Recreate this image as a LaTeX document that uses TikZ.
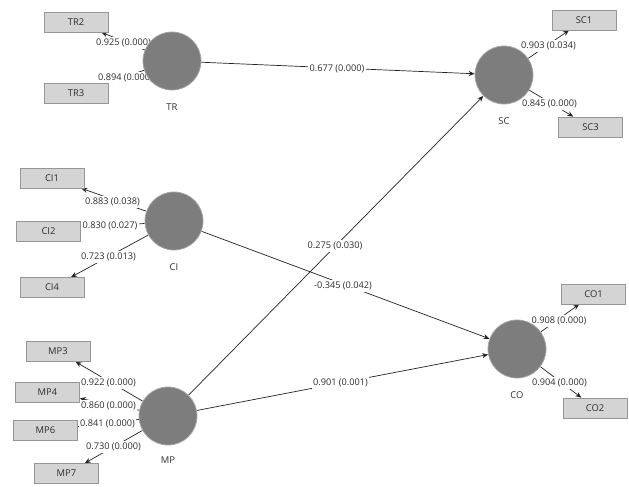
\documentclass[tikz,border=0pt]{standalone}
\usepackage{fontspec}
\setmainfont{Open Sans}
\usetikzlibrary{arrows.meta}
\pgfdeclarelayer{bg}
\pgfsetlayers{bg,main}
\definecolor{lvfill}{RGB}{125,125,125}
\definecolor{lvdraw}{RGB}{165,165,165}
\definecolor{mvfill}{RGB}{212,212,212}
\definecolor{mvdraw}{RGB}{150,150,150}
\definecolor{txt}{RGB}{45,45,45}
\definecolor{ln}{RGB}{35,35,35}
\begin{document}
\begin{tikzpicture}[x=1pt,y=-1pt,
  lv/.style={circle,fill=lvfill,draw=lvdraw,line width=0.8pt,minimum size=58pt,inner sep=0pt},
  mv/.style={rectangle,fill=mvfill,draw=mvdraw,line width=0.7pt,minimum width=64pt,minimum height=20pt,inner sep=0pt,text=txt,font=\fontsize{9.4}{10}\selectfont},
  lvname/.style={text=txt,font=\fontsize{9.4}{10}\selectfont,inner sep=0pt},
  elab/.style={fill=white,text=txt,font=\fontsize{9.2}{10}\selectfont,inner sep=1.5pt},
  arr/.style={draw=ln,line width=0.7pt,-{Stealth[length=6pt,width=5pt]}}]
\useasboundingbox (0,0) rectangle (629,487);
% latent variables
\node[lv] (TR) at (172,61) {};
\node[lv] (CI) at (174,221) {};
\node[lv] (MP) at (168,416) {};
\node[lv] (SC) at (504,75) {};
\node[lv] (CO) at (517,349) {};
\node[lvname] (TRn) at (172,107) {TR};
\node[lvname] (CIn) at (174,267) {CI};
\node[lvname] (MPn) at (168,460) {MP};
\node[lvname] (SCn) at (504,121) {SC};
\node[lvname] (COn) at (517,395) {CO};
% indicators
\node[mv] (TR2) at (76,22) {TR2};
\node[mv] (TR3) at (76,93) {TR3};
\node[mv] (CI1) at (52,178) {CI1};
\node[mv] (CI2) at (48.5,231.5) {CI2};
\node[mv] (CI4) at (52,287.5) {CI4};
\node[mv] (MP3) at (58,351.5) {MP3};
\node[mv] (MP4) at (47.5,392) {MP4};
\node[mv] (MP6) at (45.5,430.5) {MP6};
\node[mv] (MP7) at (66.5,473.5) {MP7};
\node[mv] (SC1) at (584,20) {SC1};
\node[mv] (SC3) at (590.5,127) {SC3};
\node[mv] (CO1) at (593.5,294) {CO1};
\node[mv] (CO2) at (595,408) {CO2};
\begin{pgfonlayer}{bg}
% outer model arrows
\draw[arr] (TR) -- (TR2);
\draw[arr] (TR) -- (TR3);
\draw[arr] (CI) -- (CI1);
\draw[arr] (CI) -- (CI2);
\draw[arr] (CI) -- (CI4);
\draw[arr] (MP) -- (MP3);
\draw[arr] (MP) -- (MP4);
\draw[arr] (MP) -- (MP6);
\draw[arr] (MP) -- (MP7);
\draw[arr] (SC) -- (SC1);
\draw[arr] (SC) -- (SC3);
\draw[arr] (CO) -- (CO1);
\draw[arr] (CO) -- (CO2);
% inner model arrows
\draw[arr] (TR) -- (SC);
\draw[arr] (MP) -- (SC);
\draw[arr] (CI) -- (CO);
\draw[arr] (MP) -- (CO);
% labels
\node[elab] (lTR2) at (123.5,43) {0.925 (0.000)};
\node[elab] (lTR3) at (125.5,78) {0.894 (0.000)};
\node[elab] (lCI1) at (112.5,202) {0.883 (0.038)};
\node[elab] (lCI2) at (110,226) {0.830 (0.027)};
\node[elab] (lCI4) at (108.5,257) {0.723 (0.013)};
\node[elab] (lMP3) at (108.5,383) {0.922 (0.000)};
\node[elab] (lMP4) at (108.5,406) {0.860 (0.000)};
\node[elab] (lMP6) at (107.5,423.5) {0.841 (0.000)};
\node[elab] (lMP7) at (113.5,447) {0.730 (0.000)};
\node[elab] (lSC1) at (548.5,46) {0.903 (0.034)};
\node[elab] (lSC3) at (549.5,104) {0.845 (0.000)};
\node[elab] (lCO1) at (559,321) {0.908 (0.000)};
\node[elab] (lCO2) at (559.5,383) {0.904 (0.000)};
\node[elab] (lTRSC) at (337,69) {0.677 (0.000)};
\node[elab] (lMPSC) at (335,246) {0.275 (0.030)};
\node[elab] (lCICO) at (343,286) {-0.345 (0.042)};
\node[elab] (lMPCO) at (340.5,383) {0.901 (0.001)};
\end{pgfonlayer}
\end{tikzpicture}
\end{document}
